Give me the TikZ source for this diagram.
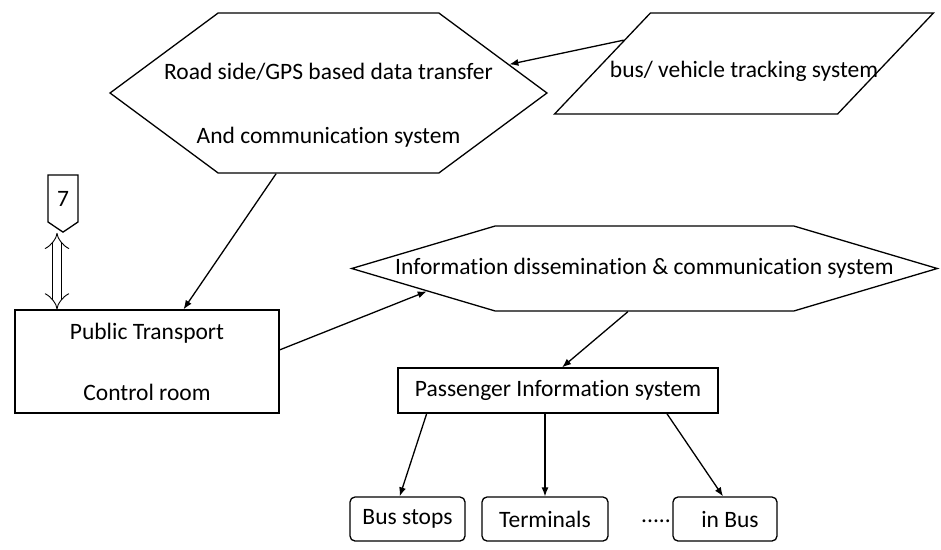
\documentclass[tikz,border=0pt]{standalone}
\usepackage{fontspec}
\setmainfont{Carlito}[Ligatures=NoCommon]
\usetikzlibrary{shapes.geometric,shapes.symbols,arrows.meta}
\begin{document}
\begin{tikzpicture}[x=1pt,y=-1pt,>={Latex[length=9pt,width=7pt]},line width=1.3pt,
    every node/.style={font=\fontsize{23.5}{28}\selectfont,inner sep=0pt},
    hexa/.style={draw,signal,signal to=west and east,align=center},
    box/.style={draw,rectangle,align=center},
    leaf/.style={draw,rectangle,rounded corners=5pt,minimum height=44pt},
    dbl/.style={draw,double=white,double distance=8pt,line width=0.9pt,{Implies}-{Implies}}]
  \useasboundingbox (0,0) rectangle (941,549);
  \node[hexa,signal pointer angle=73,inner xsep=-54pt,minimum height=160pt] (R) at (328.5,93)
    {\mbox{}\\[12pt]Road side/GPS based data transfer\\[36pt]And communication system};
  \node[draw,trapezium,trapezium left angle=46.5,trapezium right angle=133.5,inner xsep=-40.5pt,
    inner ysep=36.5pt,text height=28pt,text depth=0pt] (V) at (744,63.5) {bus/ vehicle tracking system};
  \node[draw,signal,signal to=south,signal pointer angle=112,minimum width=30pt,minimum height=51pt] (S) at (63,198.5) {7};
  \node[box,minimum width=264pt,minimum height=103pt] (C) at (147,361.5) {Public Transport\\[33pt]Control room};
  \node[hexa,signal pointer angle=33,inner xsep=-100pt,minimum height=85pt] (I) at (644.5,268.5)
    {Information dissemination \& communication system};
  \node[box,minimum width=320pt,minimum height=45pt] (P) at (558,390.5) {Passenger Information system};
  \node[leaf,minimum width=115pt] (B) at (407.5,519) {Bus stops};
  \node[leaf,minimum width=126pt] (T) at (545,519) {Terminals};
  \node[leaf,minimum width=104pt] (N) at (725,519) {\hspace{10pt}in Bus};
  \node (D) at (656,521) {.....};
  \draw[->] (V.169) -- (R.9);
  \draw[->] (R.237) -- (C.55);
  \draw[dbl] ([xshift=-6pt]S.south) -- ([xshift=-6pt]S.south |- C.north);
  \draw[->] (C.5) -- (I.186);
  \draw[->] (I.249) -- (P.80);
  \draw[->] (P.190) -- (B.109);
  \draw[->] (T |- P.south) -- (T.north);
  \draw[->] (P.348) -- (N.95);
\end{tikzpicture}
\end{document}
